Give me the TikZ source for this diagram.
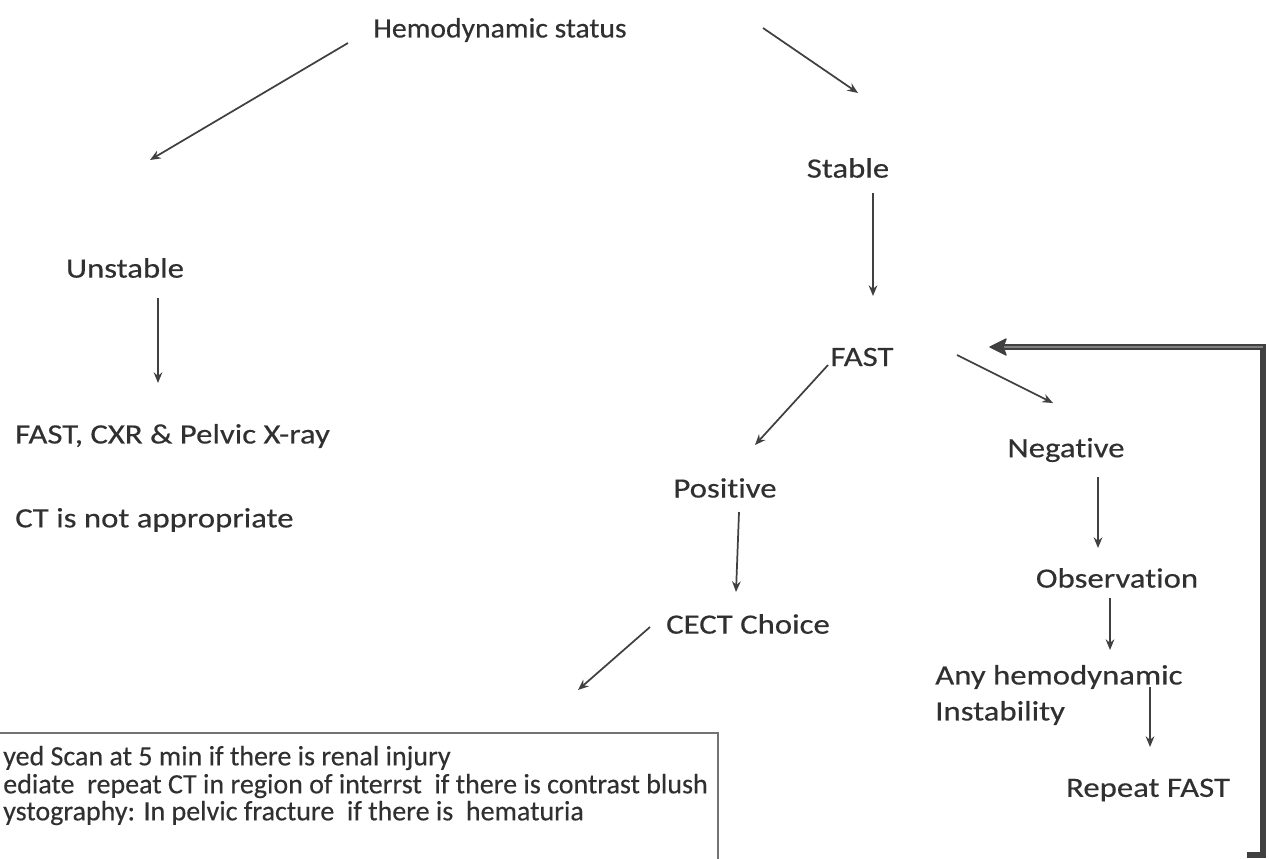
\documentclass[tikz,border=0pt]{standalone}
\usepackage{fontspec}
\setmainfont{Carlito}[FakeStretch=1.17, Ligatures=NoCommon, FakeBold=0.4]
\newfontfamily\titlefont{Carlito}[FakeStretch=1.06, Ligatures=NoCommon, FakeBold=0.4]
\newfontfamily\notefont{Carlito}[Ligatures=NoCommon, FakeBold=0.3]
\usetikzlibrary{arrows.meta}
\definecolor{ink}{HTML}{303030}
\definecolor{rule}{HTML}{404040}
\begin{document}
\begin{tikzpicture}[x=0.75pt,y=-0.75pt,
  lbl/.style={font=\fontsize{21}{27}\selectfont, text=ink, inner sep=0pt},
  note/.style={font=\notefont\fontsize{21}{27}\selectfont, text=ink, inner sep=0pt, anchor=west},
  flow/.style={draw=rule, line width=1.3pt, -{Stealth[length=8pt,width=6.5pt]}},
  boxline/.style={draw=black!55, line width=1.5pt}]
\useasboundingbox (0,0) rectangle (1269,858);

% labels
\node[lbl,font=\titlefont\fontsize{21}{27}\selectfont] (hs) at (500,30) {Hemodynamic status};
\node[lbl] (st) at (848,168) {Stable};
\node[lbl] (un) at (125,268) {Unstable};
\node[lbl,anchor=west] (fx) at (15,436) {FAST, CXR \& Pelvic X-ray};
\node[lbl,anchor=west] (ct) at (15,520) {CT is not appropriate};
\node[lbl] (fa) at (862,357) {FAST};
\node[lbl] (ng) at (1066,450) {Negative};
\node[lbl] (ob) at (1117,578) {Observation};
\node[lbl,anchor=west,align=left] (ah) at (935,695) {Any hemodynamic\\Instability};
\node[lbl] (rf) at (1148,790) {Repeat FAST};
\node[lbl] (po) at (725,488) {Positive};
\node[lbl] (ce) at (748,624) {CECT Choice};

% connector end points
\coordinate (hsL) at (348,43);   \coordinate (unT) at (150,160);
\coordinate (hsR) at (763,28);   \coordinate (stT) at (858,93);
\coordinate (stB) at (873,193);  \coordinate (faT) at (873,296);
\coordinate (unB) at (158,298);  \coordinate (fxT) at (158,383);
\coordinate (faL) at (828,365);  \coordinate (poT) at (755,445);
\coordinate (faR) at (957,355);  \coordinate (ngT) at (1053,403);
\coordinate (ngB) at (1098,477); \coordinate (obT) at (1098,548);
\coordinate (obB) at (1110,598); \coordinate (ahT) at (1110,650);
\coordinate (ahB) at (1150,687); \coordinate (rfT) at (1150,747);
\coordinate (poB) at (739,512);  \coordinate (ceT) at (736,592);
\coordinate (ceL) at (650,627);  \coordinate (bxT) at (578,690);

\draw[flow] (hsL) -- (unT);
\draw[flow] (hsR) -- (stT);
\draw[flow] (stB) -- (faT);
\draw[flow] (unB) -- (fxT);
\draw[flow] (faL) -- (poT);
\draw[flow] (faR) -- (ngT);
\draw[flow] (ngB) -- (obT);
\draw[flow] (obB) -- (ahT);
\draw[flow] (ahB) -- (rfT);
\draw[flow] (poB) -- (ceT);
\draw[flow] (ceL) -- (bxT);

% loop back from repeat FAST to FAST
\coordinate (lpA) at (1247,855);
\coordinate (lpB) at (1263,855);
\coordinate (lpC) at (1263,347);
\coordinate (lpD) at (1002,347);
\coordinate (lpE) at (990,347);
\draw[draw=rule, line width=5pt, line join=miter] (lpA) -- (lpB) -- (lpC) -- (lpD);
\draw[draw=black!50, line width=1.4pt] (lpC) -- (lpD);
\draw[draw=rule, fill=rule, line width=1pt, line join=round]
  (lpE) -- ++(16,-8) -- ++(-3,8) -- ++(3,8) -- cycle;

% findings box
\coordinate (bxA) at (-5,733);
\coordinate (bxB) at (718,733);
\coordinate (bxC) at (718,862);
\draw[boxline] (bxA) -- (bxB) -- (bxC);
\node[note] (l1) at (3,758) {yed Scan at 5 min if there is renal injury};
\node[note] (l2) at (3,786) {ediate\ \ repeat CT in region of interrst\ \ if there is contrast blush};
\node[note] (l3) at (3,813) {ystography: In pelvic fracture\ \ if there is\ \ hematuria};
\end{tikzpicture}
\end{document}
